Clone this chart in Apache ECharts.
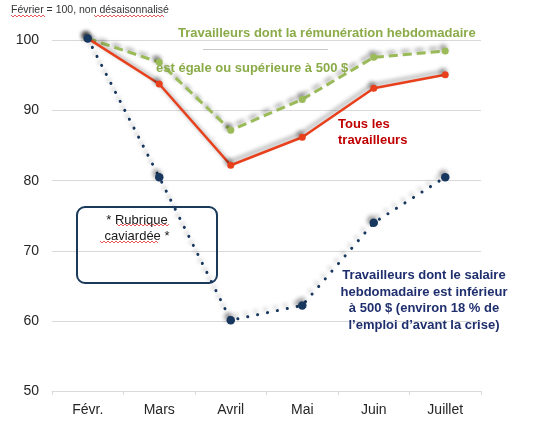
<!DOCTYPE html>
<html><head><meta charset="utf-8">
<script src="https://cdn.jsdelivr.net/npm/echarts@6/dist/echarts.min.js"></script>
<style>html,body{margin:0;padding:0;background:#fff}#c{width:549px;height:436px}</style>
</head><body><div id="c"></div>
<script>
var months = ['Févr.', 'Mars', 'Avril', 'Mai', 'Juin', 'Juillet'];
var tous = [100.3, 93.8, 82.2, 86.2, 93.2, 95.1];
var plus500 = [100.3, 96.9, 87.2, 91.6, 97.6, 98.5];
var moins500 = [100.3, 80.5, 60.1, 62.2, 74.0, 80.5];
var yTicks = [50, 60, 70, 80, 90, 100];

var FONT = '"Liberation Sans", Arial, sans-serif';
var shadow = {shadowColor: 'rgba(0,0,0,0.4)', shadowBlur: 4, shadowOffsetX: -2, shadowOffsetY: -3};

function wavy(x1, x2, y) {
  var pts = [], up = true;
  for (var x = x1; x <= x2; x += 2) { pts.push([x, y + (up ? -1 : 1)]); up = !up; }
  return {type: 'polyline', shape: {points: pts}, style: {stroke: '#e03030', lineWidth: 0.8, fill: null}, z: 10};
}

var chart = echarts.init(document.getElementById('c'), null, {renderer: 'canvas'});
chart.setOption({
  animation: false,
  backgroundColor: '#fff',
  grid: {left: 52, right: 68, top: 40.5, bottom: 45},
  xAxis: {
    type: 'category', data: months, boundaryGap: true,
    axisLine: {lineStyle: {color: '#d9d9d9', width: 1}},
    axisTick: {show: true, length: 4, lineStyle: {color: '#d9d9d9'}},
    axisLabel: {color: '#262626', fontSize: 14, fontFamily: FONT, margin: 12}
  },
  yAxis: {
    type: 'value', min: yTicks[0], max: yTicks[yTicks.length - 1], interval: 10,
    axisLine: {show: false}, axisTick: {show: false},
    axisLabel: {color: '#262626', fontSize: 14, fontFamily: FONT, margin: 13},
    splitLine: {lineStyle: {color: '#d9d9d9', width: 1}}
  },
  series: [
    {name: '≥ 500 $', type: 'line', data: plus500, clip: false, z: 3,
     symbol: 'circle', symbolSize: 7,
     lineStyle: Object.assign({color: '#9bbb59', width: 3, type: [9, 5]}, shadow),
     itemStyle: Object.assign({color: '#9bbb59'}, shadow)},
    {name: 'Tous', type: 'line', data: tous, clip: false, z: 4,
     symbol: 'circle', symbolSize: 7,
     lineStyle: Object.assign({color: '#e8401c', width: 2.5}, shadow),
     itemStyle: Object.assign({color: '#e8401c'}, shadow)},
    {name: '< 500 $', type: 'line', data: moins500, clip: false, z: 5,
     symbol: 'circle', symbolSize: 8.5,
     lineStyle: Object.assign({color: '#17375e', width: 3, type: [0.1, 10], cap: 'round'}, shadow),
     itemStyle: Object.assign({color: '#17375e'}, shadow)}
  ],
  graphic: [
    {type: 'text', left: 11, top: 5, style: {text: 'Février = 100, non désaisonnalisé', font: '10.5px ' + FONT, fill: '#333333'}},
    wavy(11, 45, 16), wavy(94, 165, 16),
    {type: 'line', shape: {x1: 203, y1: 49.5, x2: 328, y2: 49.5}, style: {stroke: '#c8c8c8', lineWidth: 1}, z: 1},
    {type: 'text', left: 178, top: 27, z: 20, style: {text: 'Travailleurs dont la rémunération hebdomadaire', font: 'bold 13px ' + FONT, fill: '#8aab48'}},
    {type: 'text', left: 156, top: 62, z: 20, style: {text: 'est égale ou supérieure à 500 $', font: 'bold 13px ' + FONT, fill: '#8aab48'}},
    {type: 'text', left: 338, top: 116, z: 20, style: {text: 'Tous les\ntravailleurs', font: 'bold 13px ' + FONT, fill: '#c00000', lineHeight: 16.5}},
    {type: 'rect', shape: {x: 77, y: 207, width: 140, height: 76, r: 8}, style: {stroke: '#1a3a5c', lineWidth: 2, fill: null}, z: 20},
    {type: 'text', x: 137, y: 212, z: 20, style: {text: '* Rubrique\ncaviardée *', font: '13px ' + FONT, fill: '#1a1a1a', align: 'center', lineHeight: 16.5}},
    wavy(117, 170, 225), wavy(100, 158, 242),
    {type: 'text', x: 424, y: 267, z: 20, style: {text: 'Travailleurs dont le salaire\nhebdomadaire est inférieur\nà 500 $ (environ 18 % de\nl’emploi d’avant la crise)', font: 'bold 13px ' + FONT, fill: '#1f2f6e', align: 'center', lineHeight: 16.7}}
  ]
});
</script></body></html>
